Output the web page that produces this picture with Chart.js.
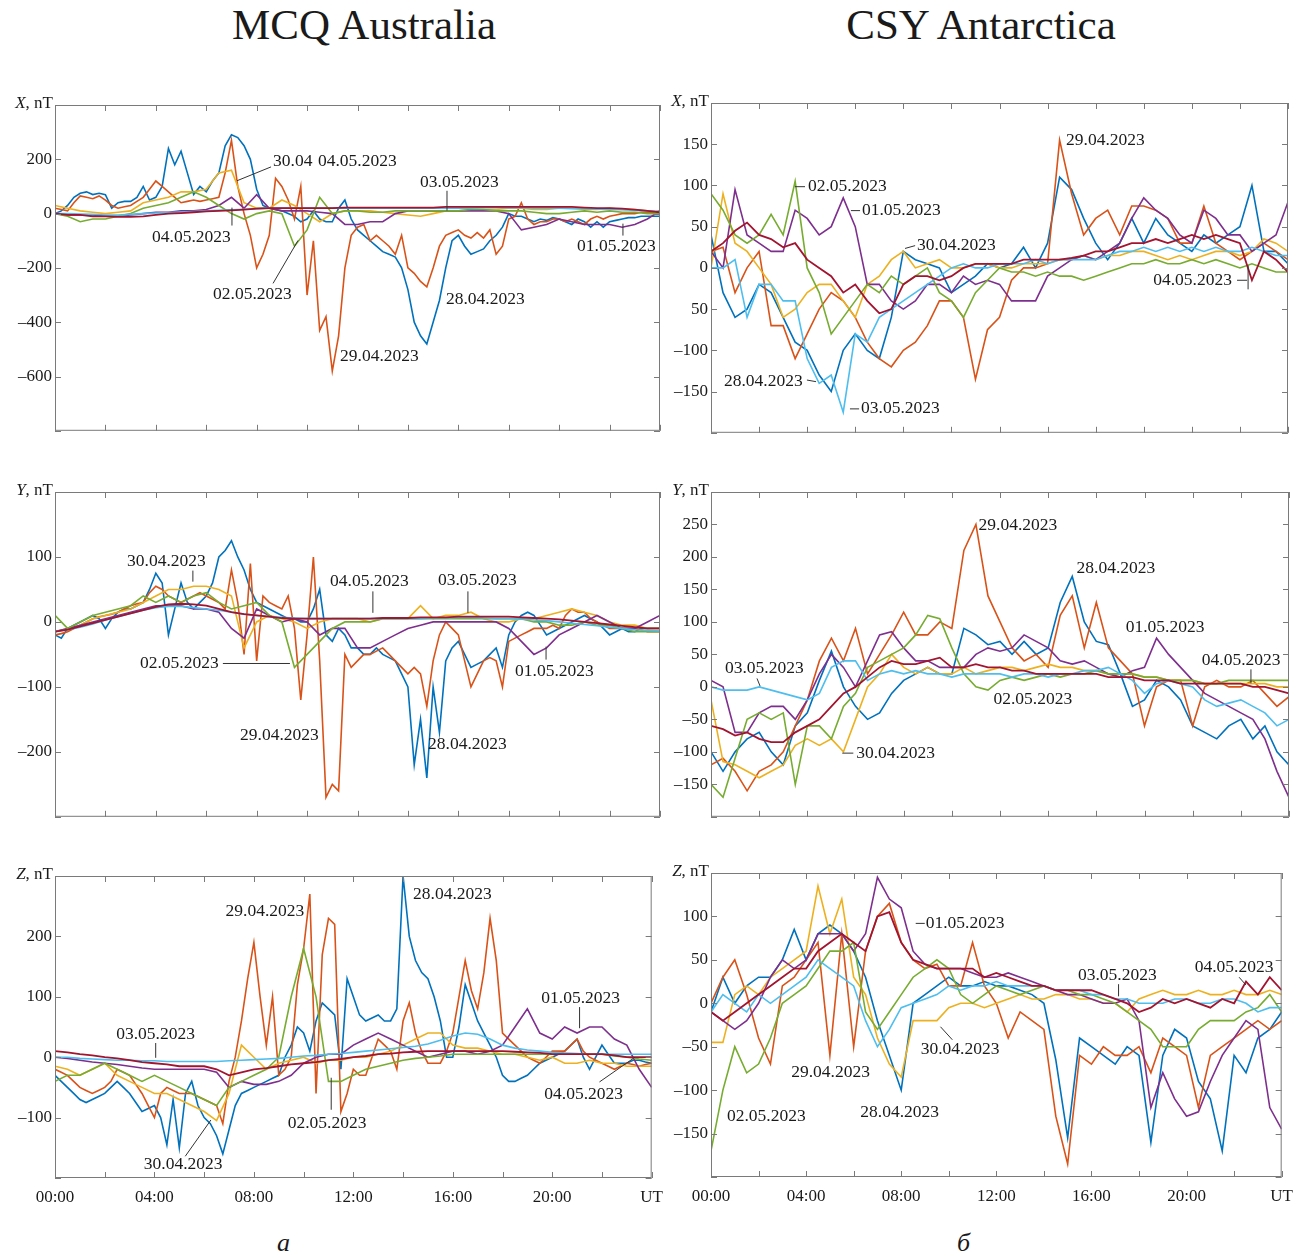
<!DOCTYPE html>
<html lang="ru">
<head>
<meta charset="utf-8">
<title>MCQ Australia / CSY Antarctica</title>
<script src="https://cdn.jsdelivr.net/npm/chart.js@4.4.1/dist/chart.umd.min.js"></script>
<style>
  html, body { margin: 0; padding: 0; background: #fff; }
  #page {
    position: relative; width: 1311px; height: 1258px; overflow: hidden;
    font-family: 'Liberation Serif', 'Times New Roman', serif; color: #1a1a1a;
  }
  .title { position: absolute; top: 4px; width: 600px; text-align: center; font-size: 43px; line-height: 42px; }
  .sub { position: absolute; top: 1228px; font-size: 26px; line-height: 30px; font-style: italic; }
  canvas { position: absolute; }
</style>
</head>
<body>
<div id="page">
  <div class="title" style="left:64px">MCQ Australia</div>
  <div class="title" style="left:681px">CSY Antarctica</div>
  <div class="sub" style="left:277px">а</div>
  <div class="sub" style="left:957px">б</div>
</div>
<script>
// Every series runs 00:00 .. 24:00 UT at equal steps (30 or 15 minutes)
const DATES = ['28.04.2023', '29.04.2023', '30.04.2023', '01.05.2023', '02.05.2023', '03.05.2023', '04.05.2023'];
const COLORS = ['#0072BD', '#D95319', '#EDB120', '#7E2F8E', '#77AC30', '#4DBEEE', '#A2142F'];

// ---- MCQ, X component (nT) ----
// 28.04 and 29.04 at 15 min, the rest at 30 min
const mcqX_2804 = [
  0,10,30,60, 75,80,70,75, 70,20,40,45, 45,60,100,50,
  60,100,240,180, 230,150,70,100, 80,120,150,250, 290,280,250,200,
  90,30,20,15, 10,0,-10,-30, -20,10,-20,-30, -30,20,50,-20,
  -60,-80,-100,-120, -140,-150,-160,-200, -280,-400,-450,-480, -400,-320,-200,-100,
  -80,-120,-150,-140, -130,-100,-80,-50, 0,-10,-10,-20, -30,-20,-25,-15,
  -20,-30,-40,-20, -30,-50,-30,-50, -30,-25,-20,-15, -15,-10,-10,-10,
  -10];
const mcqX_2904 = [
  20,15,10,40, 65,60,55,65, 50,30,20,25, 30,45,60,90,
  120,100,80,60, 40,45,50,45, 50,55,60,150, 270,100,0,-80,
  -200,-150,-80,130, 100,50,-20,100, -300,-100,-430,-380, -580,-450,-200,-80,
  -50,-40,-100,-80, -100,-120,-150,-80, -200,-220,-250,-270, -200,-120,-80,-70,
  -60,-80,-90,-70, -90,-60,-150,-120, -20,-10,40,-20, -40,-30,-30,-20,
  -20,-30,-20,-30, -40,-20,-10,-20, -10,-5,0,0, 0,5,5,5,
  10];
const mcqX_3004 = [30,20,10,5,0,5,10,40,50,60,80,80,90,150,160,40,20,20,50,30,0,-30,0,10,10,10,5,0,-5,-10,0,10,10,15,15,15,20,20,15,15,20,20,15,15,20,15,15,10,5];
const mcqX_0105 = [0,-5,-5,-5,-10,-10,-5,0,5,5,10,10,15,30,60,20,70,20,10,10,10,5,0,-40,-40,-30,-30,0,10,10,10,10,10,10,10,10,0,-60,-50,-40,-20,-30,-40,-40,-40,-50,-40,-20,10];
const mcqX_0205 = [0,-10,-30,-20,-20,-10,0,20,30,40,60,80,60,30,0,-20,0,10,0,-120,-60,60,0,10,10,5,5,10,10,10,10,10,10,15,15,10,10,10,5,0,0,5,10,5,10,5,5,0,0];
const mcqX_0305 = [0,0,-2,-3,-5,-5,-3,0,2,4,6,8,10,12,14,16,18,20,20,20,20,20,20,20,20,20,20,20,20,20,20,20,20,20,22,22,22,22,20,20,20,18,18,16,15,14,12,10,8];
const mcqX_0405 = [0,-5,-5,-10,-10,-12,-12,-10,-5,0,2,5,8,10,12,15,18,20,20,20,20,20,20,22,22,22,22,22,22,22,22,25,25,25,25,25,25,25,25,25,25,25,22,20,20,18,15,10,5];

// ---- CSY, X component (nT), 30 min ----
const csyX_2804 = [40,-30,-60,-50,-20,-30,-60,-90,-100,-130,-150,-100,-80,-100,-110,-60,20,10,5,0,-30,-20,-10,5,0,5,25,0,30,110,95,60,30,10,30,60,30,60,40,30,20,40,30,40,50,100,20,20,5];
const csyX_2904 = [20,25,-30,0,20,-70,-70,-110,-80,-50,-30,-40,-60,-90,-110,-120,-100,-90,-70,-40,-40,-60,-135,-75,-60,-15,0,0,5,155,90,40,60,70,40,75,75,70,60,30,30,75,30,20,10,20,30,20,10];
const csyX_3004 = [0,90,30,20,0,-20,-60,-50,-30,-20,-20,-40,-60,-20,-10,10,20,0,5,10,0,0,5,5,0,0,5,5,5,10,10,15,10,15,15,20,20,15,10,15,10,15,20,20,15,20,35,30,20];
const csyX_0105 = [20,0,95,40,30,20,20,70,60,40,50,85,50,-20,-20,-40,-50,-40,-20,-20,-30,-10,-20,-15,-20,-40,-40,-40,-10,0,10,15,10,20,30,60,85,70,60,40,30,70,60,40,40,20,30,40,80];
const csyX_0205 = [90,70,40,30,40,65,40,105,0,-30,-80,-60,-40,-20,-30,-10,-20,-10,0,-30,-40,-60,-30,-15,0,-5,-5,-10,-5,-10,-10,-15,-10,-5,0,5,5,10,5,5,10,5,10,5,0,5,0,-5,-5];
const csyX_0305 = [0,0,10,-60,-20,-20,-40,-40,-110,-140,-130,-175,-80,-90,-60,-50,-40,-30,-20,-10,0,5,0,0,5,5,5,10,5,10,10,10,10,15,20,20,25,20,25,20,25,20,25,20,20,25,20,15,15];
const csyX_0405 = [20,30,45,55,40,35,25,30,10,0,-10,-30,-20,-40,-55,-50,-20,-10,-10,-15,-10,0,5,5,5,5,10,10,10,10,12,15,20,20,25,30,30,35,30,35,40,35,40,35,30,-15,20,10,-5];

// ---- MCQ, Y component (nT) ----
const mcqY_2804 = [
  -20,-25,-10,-5, 0,5,10,5, -10,5,15,20, 20,25,30,50,
  75,60,-20,20, 60,30,20,30, 40,60,100,110, 125,100,80,50,
  30,25,20,15, 10,5,5,0, 0,20,50,-20, -30,-10,-20,-40,
  -40,-50,-50,-40, -50,-55,-60,-80, -100,-220,-150,-240, -100,-170,-60,-40,
  -30,-50,-70,-65, -60,-50,-40,-70, -20,0,10,15, 10,-5,-20,-15,
  -10,-5,0,5, 10,5,0,-10, -20,-15,-10,-15, -15,-10,-10,-10,
  -10];
const mcqY_2904 = [
  -20,-18,-15,-10, -5,0,5,8, 10,12,15,20, 25,28,30,45,
  55,50,40,35, 30,35,40,45, 40,35,30,20, 80,30,-50,90,
  -60,40,30,25, 20,40,-10,-120, -20,100,-60,-270, -250,-260,-50,-70,
  -60,-50,-50,-45, -40,-50,-60,-70, -80,-70,-80,-130, -60,-20,0,-10,
  -20,-60,-100,-80, -60,-55,-60,-100, -30,-25,-20,-15, -10,-10,-10,-5,
  -10,10,20,15, 15,5,0,-5, -10,-10,-10,-10, -10,-12,-15,-15,
  -15];
const mcqY_3004 = [-15,-10,-5,5,10,15,20,30,40,50,50,55,55,50,40,-40,0,10,5,0,-10,0,5,5,5,0,5,5,5,25,5,10,10,15,5,0,0,5,5,10,15,20,15,10,0,-5,-5,-10,-10];
const mcqY_0105 = [-15,-10,-5,0,5,10,15,20,25,25,25,20,20,15,-10,-25,20,10,0,5,0,-20,-10,-10,-40,-40,-30,-20,-10,-5,0,0,0,0,0,0,-10,-30,-50,-40,-20,-10,0,10,0,-10,-10,0,10];
const mcqY_0205 = [10,-10,0,10,15,20,25,40,30,40,30,40,45,30,20,25,30,10,0,-70,-50,-30,-10,0,0,0,5,5,5,5,5,5,5,5,5,5,5,5,0,0,-5,-5,0,-5,-5,-10,-15,-15,-15];
const mcqY_0305 = [-15,-12,-8,-3,3,8,13,18,22,24,24,22,20,18,15,12,10,8,7,6,5,5,5,5,5,5,5,5,5,5,6,6,7,7,6,5,5,4,3,2,0,-2,-4,-6,-8,-10,-12,-13,-14];
const mcqY_0405 = [-15,-12,-7,-2,3,8,13,18,23,27,28,27,25,20,15,12,10,8,6,5,5,5,5,5,5,5,6,6,6,7,7,7,8,8,8,8,8,7,6,5,4,2,0,-2,-4,-6,-8,-10,-10];

// ---- CSY, Y component (nT), 30 min ----
const csyY_2804 = [-100,-130,-100,-80,-70,-100,-120,-60,-40,10,55,0,-30,-50,-40,-10,10,20,30,20,20,90,80,65,70,50,70,50,60,130,170,100,70,65,20,-30,-20,10,0,-20,-60,-70,-80,-60,-50,-80,-60,-100,-120];
const csyY_2904 = [-120,-110,-130,-160,-130,-120,-100,-60,-20,40,75,40,90,20,50,80,115,80,80,100,90,210,250,140,100,60,40,50,30,110,140,60,130,60,40,20,-60,0,10,10,-60,0,10,0,0,10,-10,-30,-15];
const csyY_3004 = [-20,-115,-120,-130,-140,-130,-120,-90,-80,-90,-80,-100,-50,0,20,50,30,20,30,20,20,30,20,25,30,30,25,30,35,30,30,25,25,20,20,20,15,15,10,10,10,5,5,5,5,5,5,0,0];
const csyY_0105 = [10,0,-70,-70,-40,-30,-30,-50,-20,20,50,30,0,40,80,85,60,40,40,30,30,30,50,60,55,60,80,70,60,40,35,40,30,20,15,25,30,75,50,30,10,-10,-20,-30,-40,-50,-80,-130,-170];
const csyY_0205 = [-150,-170,-110,-50,-40,-50,-40,-150,-60,-60,-80,-30,-10,30,40,50,60,80,110,105,60,20,0,-5,10,15,10,15,20,15,20,20,25,20,20,20,15,15,10,10,10,5,5,10,10,10,10,10,10];
const csyY_0305 = [0,-5,-5,-5,0,-5,-10,-15,-20,-10,30,40,40,10,20,25,20,25,20,20,15,20,20,20,20,15,20,20,15,20,20,25,25,30,20,10,-10,5,10,5,0,-20,-30,-25,-20,-30,-40,-60,-50];
const csyY_0405 = [-60,-65,-75,-70,-80,-85,-85,-70,-60,-50,-30,-10,0,15,30,40,35,35,40,45,30,30,35,30,30,25,25,20,20,20,20,20,20,15,15,15,10,10,10,5,5,5,5,5,5,0,0,-5,-10];

// ---- MCQ, Z component (nT) ----
const mcqZ_2804 = [
  -30,-40,-50,-60, -70,-75,-70,-65, -60,-50,-40,-50, -60,-75,-90,-85,
  -80,-100,-145,-70, -150,-60,-40,-80, -100,-110,-130,-160, -120,-80,-60,-55,
  -50,-45,-40,-35, -30,0,20,50, 40,10,60,90, 80,70,-20,130,
  100,70,60,65, 70,60,60,80, 300,200,160,140, 130,100,60,0,
  0,50,120,90, 60,40,20,0, -30,-40,-40,-35, -30,-20,-10,-5,
  0,5,10,20, 30,0,-20,0, 20,5,-10,-10, -10,-5,-5,-8,
  -10];
const mcqZ_2904 = [
  -20,-25,-30,-40, -50,-55,-60,-55, -50,-40,-20,-25, -30,-45,-60,-80,
  -100,-60,-50,-55, -60,-60,-60,-65, -70,-75,-80,-110, -40,0,60,130,
  190,100,20,100, -30,-20,0,120, 180,270,-60,170, 230,220,-90,-60,
  -20,-30,-30,0, 30,20,10,-20, 60,90,40,10, -10,-10,-10,10,
  40,100,160,110, 80,140,230,160, 40,30,20,10, 0,-5,-10,0,
  10,10,10,20, 30,10,0,-5, -10,-15,-20,-15, -10,-12,-15,-12,
  -10];
const mcqZ_3004 = [-15,-20,-30,-20,-10,-30,-40,-50,-60,-60,-70,-80,-90,-105,-60,20,0,-20,-10,-5,0,-10,-5,-5,0,0,5,10,20,30,40,40,20,15,15,10,5,5,0,-5,0,-10,-10,-5,-10,-10,-15,-15,-15];
const mcqZ_0105 = [0,-2,-5,-8,-10,-12,-15,-18,-20,-20,-20,-20,-20,-25,-50,-40,-45,-45,-40,-30,-10,0,5,5,20,30,40,30,20,10,0,5,10,10,5,10,20,50,80,40,30,50,40,50,50,30,20,-20,-50];
const mcqZ_0205 = [-40,-30,-30,-20,-10,-20,-30,-40,-30,-40,-50,-60,-70,-80,-50,-40,-30,-20,0,100,180,100,-40,-40,-30,-20,-15,-10,-5,-2,0,2,5,5,5,5,5,5,5,5,5,5,5,5,5,2,0,-3,-5];
const mcqZ_0305 = [0,0,-2,-3,-4,-5,-5,-6,-6,-7,-7,-7,-7,-7,-6,-5,-4,-3,-2,0,2,3,5,6,8,10,12,14,16,18,22,28,35,40,38,30,20,15,12,10,8,7,6,5,5,5,5,5,5];
const mcqZ_0405 = [10,8,5,3,0,-2,-5,-8,-10,-12,-15,-15,-15,-20,-30,-25,-20,-18,-15,-12,-10,-8,-5,-3,0,2,5,6,8,9,10,10,10,10,10,10,10,9,8,7,5,5,5,5,5,3,0,0,0];

// ---- CSY, Z component (nT), 30 min ----
const csyZ_2804 = [-10,30,0,20,30,30,50,85,50,80,90,80,60,30,-20,-60,-100,0,10,20,30,20,20,25,20,20,15,10,0,-65,-155,-40,-50,-60,-70,-50,-60,-160,-60,-30,-40,-90,-110,-170,-60,-80,-40,-30,-10];
const csyZ_2904 = [0,30,50,10,-40,-70,20,30,50,70,-60,80,-50,60,100,115,70,50,40,45,20,20,70,20,0,-40,-10,-20,-30,-130,-185,-60,-70,-50,-60,-60,-50,-80,-40,-50,-60,-120,-60,-50,-40,-30,-20,-30,-20];
const csyZ_3004 = [-45,-45,10,20,10,30,40,50,60,135,80,120,30,10,-40,-70,-85,-20,-20,-20,-5,0,0,-5,0,5,10,5,5,10,10,5,5,0,0,-10,5,10,15,10,10,15,10,10,15,10,10,15,10];
const csyZ_0105 = [-10,-20,-30,-20,0,30,50,40,50,80,80,80,60,80,145,120,110,60,45,40,40,40,35,30,30,35,30,25,20,15,10,10,5,0,0,5,-20,-120,-80,-110,-130,-125,-90,-60,-40,-20,-30,-120,-145];
const csyZ_0205 = [-170,-100,-50,-80,-70,-40,0,10,20,40,60,60,70,-10,-30,-10,10,30,40,50,40,10,0,10,20,15,10,15,20,15,15,10,10,5,0,-10,-20,-30,-50,-50,-50,-30,-20,-20,-20,-10,-5,10,-10];
const csyZ_0305 = [-10,10,0,-10,10,0,10,20,30,50,40,30,20,-20,-50,-30,-5,0,5,10,20,15,20,20,25,20,20,20,20,15,15,15,10,10,5,5,0,0,0,5,5,0,0,5,5,0,-10,-5,-5];
const csyZ_0405 = [-10,-20,-10,0,10,20,30,40,40,60,70,80,70,60,100,105,70,50,45,40,40,40,40,30,35,30,25,20,20,15,15,15,15,10,5,0,-10,-5,5,0,5,0,-5,5,0,25,10,30,15];

const FONT = "'Liberation Serif', 'Times New Roman', serif";
const AXIS_W = 55;   // room for the y tick labels
const PAD_T = 20;
const PAD_R = 12;
const PAD_B = 12;

function fmt(v) {
  return v < 0 ? '\u2013' + Math.abs(v) : String(v);
}

// panel layout: plot box in page pixels, y range, date notes (hours / nT)
const PANELS = [
  {
    axis: 'X', box: { l: 55, t: 105, r: 660, b: 432 }, min: -800, max: 400, step: 200, bottom: false,
    series: [mcqX_2804, mcqX_2904, mcqX_3004, mcqX_0105, mcqX_0205, mcqX_0305, mcqX_0405],
    notes: [
      { t: '30.04', h: 8.65, v: 191, lines: [[[8.57, 172], [7.22, 121]]] },
      { t: '04.05.2023', h: 10.43, v: 191 },
      { t: '03.05.2023', h: 14.48, v: 114, lines: [[[15.55, 84], [15.55, 11]]] },
      { t: '04.05.2023', h: 3.85, v: -88, lines: [[[7.02, 22], [7.02, -44]]] },
      { t: '02.05.2023', h: 6.27, v: -297, lines: [[[8.65, -257], [9.64, -99]]] },
      { t: '29.04.2023', h: 11.31, v: -525 },
      { t: '28.04.2023', h: 15.51, v: -316 },
      { t: '01.05.2023', h: 20.71, v: -121, lines: [[[22.53, -37], [22.53, -81]]] }
    ]
  },
  {
    axis: 'X', box: { l: 711, t: 103, r: 1288, b: 434 }, min: -200, max: 200, step: 50, bottom: false,
    label: v => (v === -50 ? '50' : fmt(v)),
    series: [csyX_2804, csyX_2904, csyX_3004, csyX_0105, csyX_0205, csyX_0305, csyX_0405],
    notes: [
      { t: '29.04.2023', h: 14.77, v: 155 },
      { t: '02.05.2023', h: 4.03, v: 98.5, lines: [[[3.49, 98.5], [3.91, 98.5]]] },
      { t: '01.05.2023', h: 6.28, v: 69.5, lines: [[[5.82, 69.5], [6.2, 69.5]]] },
      { t: '30.04.2023', h: 8.57, v: 27, lines: [[[8.07, 23.6], [8.49, 27]]] },
      { t: '28.04.2023', h: 0.54, v: -138, lines: [[[3.99, -136], [4.37, -138]]] },
      { t: '03.05.2023', h: 6.24, v: -171, lines: [[[5.78, -171], [6.16, -171]]] },
      { t: '04.05.2023', h: 18.39, v: -15, lines: [[[21.88, -15], [22.3, -15]], [[22.34, 3], [22.34, -26]]] }
    ]
  },
  {
    axis: 'Y', box: { l: 55, t: 492, r: 660, b: 818 }, min: -300, max: 200, step: 100, bottom: false,
    series: [mcqY_2804, mcqY_2904, mcqY_3004, mcqY_0105, mcqY_0205, mcqY_0305, mcqY_0405],
    notes: [
      { t: '30.04.2023', h: 2.86, v: 93, lines: [[[5.47, 79], [5.47, 62]]] },
      { t: '02.05.2023', h: 3.37, v: -64, lines: [[[6.66, -64], [9.32, -64]]] },
      { t: '29.04.2023', h: 7.34, v: -174 },
      { t: '04.05.2023', h: 10.91, v: 62, lines: [[[12.61, 47], [12.61, 14]]] },
      { t: '03.05.2023', h: 15.19, v: 63.5, lines: [[[16.38, 47], [16.38, 14]]] },
      { t: '01.05.2023', h: 18.25, v: -76, lines: [[[19.48, -38], [19.48, -58]]] },
      { t: '28.04.2023', h: 14.8, v: -188 }
    ]
  },
  {
    axis: 'Y', box: { l: 711, t: 492, r: 1289, b: 818 }, min: -200, max: 300, step: 50, bottom: false,
    series: [csyY_2804, csyY_2904, csyY_3004, csyY_0105, csyY_0205, csyY_0305, csyY_0405],
    notes: [
      { t: '03.05.2023', h: 0.58, v: 28.5, lines: [[[1.91, 13], [2.04, 1]]] },
      { t: '29.04.2023', h: 11.11, v: 248 },
      { t: '28.04.2023', h: 15.18, v: 182 },
      { t: '01.05.2023', h: 17.22, v: 91 },
      { t: '04.05.2023', h: 20.38, v: 41, lines: [[[22.42, 27], [22.42, 5.5]]] },
      { t: '02.05.2023', h: 11.73, v: -19 },
      { t: '30.04.2023', h: 6.03, v: -102, lines: [[[5.45, -102], [5.91, -102]]] }
    ]
  },
  {
    axis: 'Z', box: { l: 55, t: 876, r: 660, b: 1178 }, min: -200, max: 300, step: 100, bottom: true,
    series: [mcqZ_2804, mcqZ_2904, mcqZ_3004, mcqZ_0105, mcqZ_0205, mcqZ_0305, mcqZ_0405],
    notes: [
      { t: '03.05.2023', h: 2.46, v: 37, lines: [[[4.05, 23.5], [4.05, -1]]] },
      { t: '29.04.2023', h: 6.86, v: 242 },
      { t: '30.04.2023', h: 3.57, v: -177, lines: [[[5.24, -164], [6.27, -104]]] },
      { t: '02.05.2023', h: 9.36, v: -109, lines: [[[11.11, -34], [11.11, -87]]] },
      { t: '28.04.2023', h: 14.4, v: 270 },
      { t: '01.05.2023', h: 19.56, v: 98, lines: [[[21.1, 83], [21.1, 48]]] },
      { t: '04.05.2023', h: 19.68, v: -61, lines: [[[21.9, -41], [23.33, 0]]] }
    ]
  },
  {
    axis: 'Z', box: { l: 711, t: 873, r: 1290, b: 1177 }, min: -200, max: 150, step: 50, bottom: true,
    series: [csyZ_2804, csyZ_2904, csyZ_3004, csyZ_0105, csyZ_0205, csyZ_0305, csyZ_0405],
    notes: [
      { t: '01.05.2023', h: 9.03, v: 92, lines: [[[8.61, 92], [8.99, 92]]] },
      { t: '29.04.2023', h: 3.37, v: -80 },
      { t: '30.04.2023', h: 8.82, v: -53, lines: [[[9.65, -27], [10.15, -42]]] },
      { t: '02.05.2023', h: 0.67, v: -130 },
      { t: '28.04.2023', h: 6.28, v: -126 },
      { t: '03.05.2023', h: 15.43, v: 32.6, lines: [[[17.14, 22], [17.14, 8]]] },
      { t: '04.05.2023', h: 20.34, v: 41, lines: [[[22.21, 30], [22.5, 21]]] }
    ]
  }
];

// box with inward ticks (matlab style), axis name and the date notes
function framePlugin(p) {
  return {
    id: 'matlabFrame',
    afterDatasetsDraw(chart) {
      const { ctx, chartArea: a, scales } = chart;
      const sx = scales.x, sy = scales.y;
      ctx.save();

      ctx.strokeStyle = '#7a7a7a';
      ctx.lineWidth = 1;
      ctx.strokeRect(a.left + 0.5, a.top + 0.5, a.right - a.left - 1, a.bottom - a.top - 1);
      ctx.beginPath();
      sx.ticks.forEach(t => {
        const x = Math.round(sx.getPixelForValue(t.value)) + 0.5;
        ctx.moveTo(x, a.bottom); ctx.lineTo(x, a.bottom - 6);
        ctx.moveTo(x, a.top); ctx.lineTo(x, a.top + 6);
      });
      sy.ticks.forEach(t => {
        const y = Math.round(sy.getPixelForValue(t.value)) + 0.5;
        ctx.moveTo(a.left, y); ctx.lineTo(a.left + 6, y);
        ctx.moveTo(a.right, y); ctx.lineTo(a.right - 6, y);
      });
      ctx.stroke();

      // axis name, e.g. "X, nT"
      ctx.fillStyle = '#1a1a1a';
      ctx.textBaseline = 'middle';
      ctx.font = 'italic 17px ' + FONT;
      const w1 = ctx.measureText(p.axis).width;
      ctx.font = '17px ' + FONT;
      const w2 = ctx.measureText(', nT').width;
      const xEnd = a.left - 2;
      ctx.font = 'italic 17px ' + FONT;
      ctx.fillText(p.axis, xEnd - w1 - w2, a.top - 1);
      ctx.font = '17px ' + FONT;
      ctx.fillText(', nT', xEnd - w2, a.top - 1);

      // leader lines
      ctx.strokeStyle = '#333';
      ctx.beginPath();
      p.notes.forEach(n => {
        (n.lines || []).forEach(seg => {
          ctx.moveTo(sx.getPixelForValue(seg[0][0]), sy.getPixelForValue(seg[0][1]));
          ctx.lineTo(sx.getPixelForValue(seg[1][0]), sy.getPixelForValue(seg[1][1]));
        });
      });
      ctx.stroke();

      // note texts
      ctx.font = '17.5px ' + FONT;
      ctx.textAlign = 'left';
      p.notes.forEach(n => {
        ctx.fillText(n.t, sx.getPixelForValue(n.h), sy.getPixelForValue(n.v));
      });
      ctx.restore();
    }
  };
}

function buildPanel(p) {
  const b = p.box;
  const canvas = document.createElement('canvas');
  const w = b.r - b.l + AXIS_W + PAD_R;
  const h = b.b - b.t + PAD_T + (p.bottom ? 45 : PAD_B);
  canvas.width = w;
  canvas.height = h;
  canvas.style.left = (b.l - AXIS_W) + 'px';
  canvas.style.top = (b.t - PAD_T) + 'px';
  document.getElementById('page').appendChild(canvas);

  const yLabel = p.label || fmt;
  const datasets = p.series.map((arr, i) => ({
    label: DATES[i],
    // sample k of n sits at k * 24 / (n - 1) hours
    data: arr.map((v, k) => ({ x: k * 24 / (arr.length - 1), y: v })),
    borderColor: COLORS[i],
    borderWidth: i === 6 ? 1.8 : 1.6,
    pointRadius: 0,
    tension: 0,
    fill: false,
    order: 6 - i
  }));

  new Chart(canvas, {
    type: 'line',
    data: { datasets },
    options: {
      responsive: false,
      animation: false,
      devicePixelRatio: 1,
      events: [],
      layout: { padding: { top: PAD_T, right: PAD_R, bottom: p.bottom ? 5 : PAD_B, left: 0 } },
      plugins: { legend: { display: false }, tooltip: { enabled: false } },
      scales: {
        x: {
          type: 'linear',
          min: 0,
          max: 24,
          grid: { display: false, drawTicks: false },
          border: { display: false },
          ticks: {
            display: p.bottom,
            stepSize: 2,
            autoSkip: false,
            maxRotation: 0,
            padding: 9,
            color: '#1a1a1a',
            font: { family: FONT, size: 17 },
            callback: v => {
              if (v % 4 !== 0) return '';
              if (v === 24) return 'UT';
              return String(v).padStart(2, '0') + ':00';
            }
          },
          afterFit: s => { s.height = p.bottom ? 40 : 0; }
        },
        y: {
          type: 'linear',
          min: p.min,
          max: p.max,
          grid: { display: false, drawTicks: false },
          border: { display: false },
          ticks: {
            stepSize: p.step,
            autoSkip: false,
            padding: 3,
            color: '#1a1a1a',
            font: { family: FONT, size: 17 },
            callback: v => (v === p.min || v === p.max ? '' : yLabel(v))
          },
          afterFit: s => { s.width = AXIS_W; }
        }
      }
    },
    plugins: [framePlugin(p)]
  });
}

PANELS.forEach(buildPanel);
</script>
</body>
</html>
